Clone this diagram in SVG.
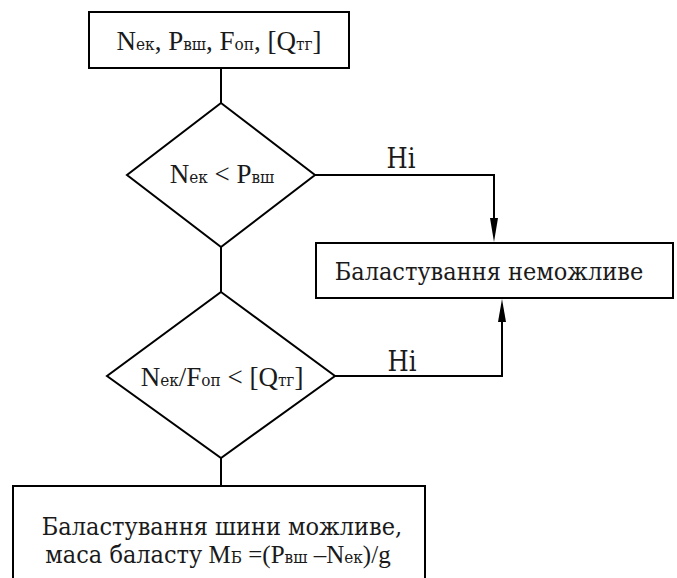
<svg xmlns="http://www.w3.org/2000/svg" width="677" height="578" viewBox="0 0 677 578">
<style>
.s{fill:#fff;stroke:#000;stroke-width:2}
.t{font-family:"Liberation Serif","DejaVu Serif Condensed","DejaVu Serif",serif;font-size:27px;fill:#1a1a1a;text-anchor:middle}
.k{font-family:"DejaVu Serif Condensed","DejaVu Serif",serif;font-stretch:condensed}
.b{font-size:25px}
.sub{font-size:17px}
.c{fill:none;stroke:#000;stroke-width:2}
</style>
<rect width="677" height="578" fill="#fff"/>
<g id="connectors">
<line class="c" x1="221" y1="68" x2="221" y2="103"/>
<line class="c" x1="221" y1="247" x2="221" y2="292"/>
<line class="c" x1="221" y1="458" x2="221" y2="486"/>
<path d="M315,175 H494 V218" class="c"/>
<path d="M494,218 L498,218 L494,242 L490,218 Z" fill="#000"/>
<path d="M335,376 H502 V322" class="c"/>
<path d="M502,322 L506,322 L502,299 L498,322 Z" fill="#000"/>
<text class="t k" x="401" y="168">Ні</text>
<text class="t k" x="402" y="371">Ні</text>
</g>
<g id="start">
<rect class="s" x="89" y="12" width="260" height="56"/>
<text class="t" x="219" y="50">N<tspan class="sub k">ек</tspan>, P<tspan class="sub k">вш</tspan>, F<tspan class="sub k">оп</tspan>, [Q<tspan class="sub k">тг</tspan>]</text>
</g>
<g id="cond1">
<polygon class="s" points="221,103 315,175 221,247 127,175"/>
<text class="t" x="222" y="183">N<tspan class="sub k">ек</tspan> &lt; P<tspan class="sub k">вш</tspan></text>
</g>
<g id="impossible">
<rect class="s" x="316" y="243" width="357" height="55"/>
<text class="t k b" x="489" y="280">Баластування  неможливе</text>
</g>
<g id="cond2">
<polygon class="s" points="221,292 335,376 221,458 107,376"/>
<text class="t" x="222" y="386">N<tspan class="sub k">ек</tspan>/F<tspan class="sub k">оп</tspan> &lt; [Q<tspan class="sub k">тг</tspan>]</text>
</g>
<g id="possible">
<path class="c" d="M13,590 V486 H425 V590" fill="#fff"/>
<text class="t k b" x="222" y="535">Баластування  шини можливе,</text>
<text class="t b" x="218" y="563"><tspan class="k">маса баласту</tspan>  M<tspan class="sub k">Б</tspan> =(P<tspan class="sub k">вш</tspan> –N<tspan class="sub k">ек</tspan>)/g</text>
</g>
</svg>
